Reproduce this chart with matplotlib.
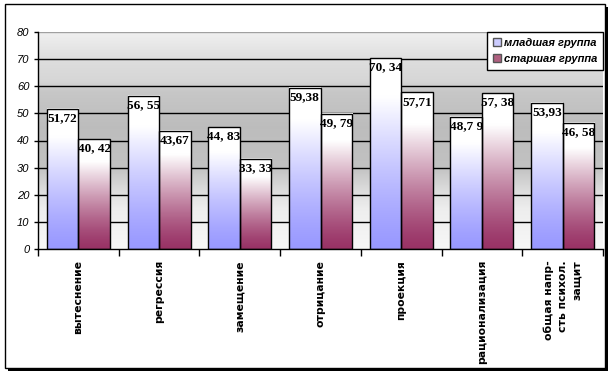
import numpy as np
import matplotlib.pyplot as plt
from matplotlib.patches import Rectangle, Patch
from matplotlib.colors import to_rgb

# данные
categories = ["вытеснение", "регрессия", "замещение", "отрицание", "проекция",
              "рационализация", "общая напр-\nсть психол.\nзащит"]
young = [51.72, 56.55, 44.83, 59.38, 70.34, 48.79, 53.93]
old = [40.42, 43.67, 33.33, 49.79, 57.71, 57.38, 46.58]
young_lbl = ["51,72", "56, 55", "44, 83", "59,38", "70, 34", "48,7 9", "53,93"]
old_lbl = ["40, 42", "43,67", "33, 33", "49, 79", "57,71", "57, 38", "46, 58"]
series_names = ["младшая группа", "старшая группа"]

fig = plt.figure(figsize=(6.12, 3.75), dpi=100)
ax = fig.add_axes([38 / 612, 1 - 249 / 375, 565 / 612, 217 / 375])

n = len(categories)
x = np.arange(n)
w = 0.39

ax.set_xlim(-0.5, n - 0.5)
ax.set_ylim(0, 80)

# фон области построения (градиент серого)
ys = np.linspace(0, 80, 200)
shade = np.interp(ys, [0, 15, 22, 30, 45, 58, 62, 70, 80],
                  [0.97, 0.93, 0.86, 0.76, 0.74, 0.78, 0.84, 0.87, 0.94])
bg = np.stack([shade, shade, shade], axis=-1)[:, None, :].repeat(2, axis=1)
ax.imshow(bg, extent=(-0.5, n - 0.5, 0, 80), origin="lower", aspect="auto", zorder=0)

for v in range(10, 80, 10):
    ax.axhline(v, color="black", lw=1, zorder=1)
ax.axhline(80, color="#a0a0a0", lw=1, zorder=1)


def grad_bar(xc, h, col):
    c = np.array(to_rgb(col))
    t = np.linspace(0, 1, 100)
    k = np.clip(t / 0.8, 0, 1) ** 1.3
    img = c[None, :] * (1 - k[:, None]) + np.ones(3)[None, :] * k[:, None]
    img = img[:, None, :].repeat(2, axis=1)
    ax.imshow(img, extent=(xc - w / 2, xc + w / 2, 0, h), origin="lower",
              aspect="auto", zorder=2)
    ax.add_patch(Rectangle((xc - w / 2, 0), w, h, fill=False, ec="black", lw=1, zorder=3))


for i in range(n):
    grad_bar(x[i] - w / 2, young[i], "#9999ff")
    grad_bar(x[i] + w / 2, old[i], "#993366")
    ax.text(x[i] - w / 2, young[i] - 1.2, young_lbl[i], ha="center", va="top",
            fontsize=9.5, fontweight="bold", family="Liberation Serif", zorder=4)
    ax.text(x[i] + w / 2, old[i] - 1.2, old_lbl[i], ha="center", va="top",
            fontsize=9.5, fontweight="bold", family="Liberation Serif", zorder=4)

ax.set_xlim(-0.5, n - 0.5)
ax.set_ylim(0, 80)

# оси
ax.set_yticks(range(0, 81, 10))
ax.set_yticklabels([str(v) for v in range(0, 81, 10)], fontsize=8, style="italic",
                   family="Liberation Sans")
ax.tick_params(axis="y", length=3, width=1, pad=3)
ax.set_xticks(x)
ax.set_xticklabels(categories, rotation=90, fontsize=7.8, fontweight="bold",
                   family="DejaVu Sans", va="top", ha="center", ma="right",
                   linespacing=1.5)
ax.tick_params(axis="x", length=0, pad=8)
ax.set_xticks(np.arange(-0.5, n, 1), minor=True)
ax.tick_params(axis="x", which="minor", length=5, width=1, direction="out")
for s in ["top", "right"]:
    ax.spines[s].set_visible(False)
ax.spines["left"].set_linewidth(1)
ax.spines["bottom"].set_linewidth(1)

handles = [Patch(facecolor="#ccccff", edgecolor="#555555"),
           Patch(facecolor="#b06080", edgecolor="#555555")]
leg = ax.legend(handles, series_names, loc="upper right", bbox_to_anchor=(1.0, 1.0),
                borderaxespad=0, fancybox=False, framealpha=1, edgecolor="black",
                prop={"family": "Liberation Sans", "weight": "bold", "style": "italic", "size": 8},
                handlelength=0.7, handleheight=0.7, handletextpad=0.3,
                labelspacing=0.6, borderpad=0.5)
leg.get_frame().set_linewidth(1)
leg.set_zorder(10)

# рамка рисунка с тенью
fig.patches.append(Rectangle((8 / 612, 1 - 371 / 375), 600 / 612, 364 / 375,
                             transform=fig.transFigure, fc="black", ec="none", zorder=-2))
fig.patches.append(Rectangle((5 / 612, 1 - 368 / 375), 600 / 612, 364 / 375,
                             transform=fig.transFigure, fc="white", ec="black", lw=1, zorder=-1))

fig.savefig("out.png", dpi=100)
